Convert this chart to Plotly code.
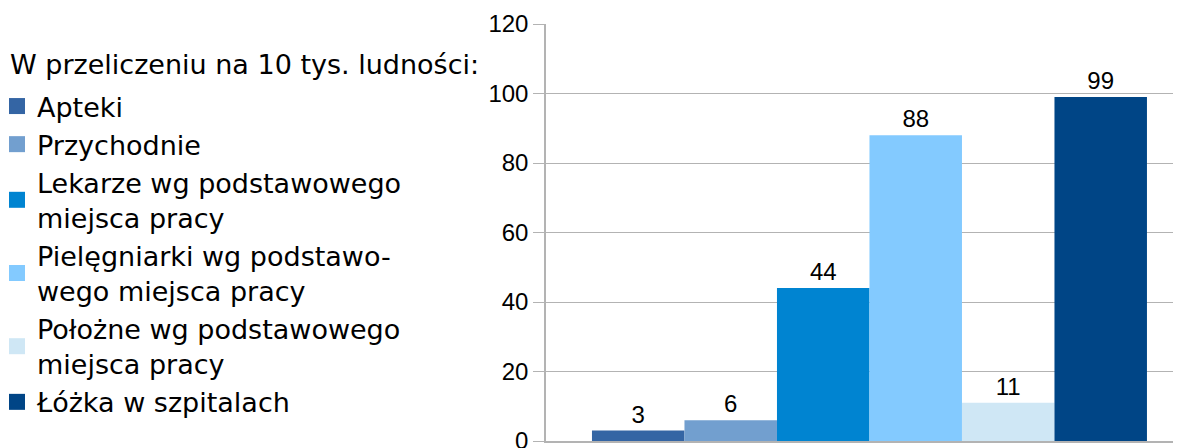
import plotly.graph_objects as go

series_names = [
    "Apteki",
    "Przychodnie",
    "Lekarze wg podstawowego<br>miejsca pracy",
    "Pielęgniarki wg podstawo-<br>wego miejsca pracy",
    "Położne wg podstawowego<br>miejsca pracy",
    "Łóżka w szpitalach",
]
series_values = [3, 6, 44, 88, 11, 99]
series_colors = ["#3465a4", "#729fcf", "#0084d1", "#83caff", "#cfe7f5", "#004586"]
y_ticks = [0, 20, 40, 60, 80, 100, 120]
legend_title = "W przeliczeniu na 10 tys. ludności:"

W, H = 1173, 440
ML, MT, MB, MR = 538, 16, 7, 0
PW, PH = W - ML - MR, H - MT - MB

fig = go.Figure()
for i, (name, val, col) in enumerate(zip(series_names, series_values, series_colors)):
    grp = f"g{i}"
    fig.add_trace(go.Bar(
        x=[0], y=[val], name=name, marker=dict(color=col, line=dict(width=0)),
        text=[str(val)], textposition="outside", cliponaxis=False,
        textfont=dict(family="Liberation Sans, Arial", size=24, color="black"),
        showlegend=False, legendgroup=grp,
    ))
    fig.add_trace(go.Scatter(
        x=[None], y=[None], mode="markers", name=name, legendgroup=grp,
        marker=dict(symbol="square", size=16, color=col),
    ))

fig.update_layout(
    width=W, height=H,
    margin=dict(l=ML, r=MR, t=MT, b=MB, autoexpand=False),
    paper_bgcolor="white", plot_bgcolor="white",
    barmode="group", bargap=0.126, bargroupgap=0,
    showlegend=True,
    title=dict(
        text=legend_title, font=dict(family="DejaVu Sans", size=27, color="black"),
        xref="container", yref="container", x=2 / W, xanchor="left",
        y=1 - 57 / H, yanchor="middle",
    ),
    legend=dict(
        font=dict(family="DejaVu Sans", size=27, color="black"),
        xref="paper", yref="paper",
        x=(-11 - ML) / PW, xanchor="left", y=1 - (74 - MT) / PH, yanchor="top",
        tracegroupgap=3, itemwidth=30, bgcolor="rgba(0,0,0,0)",
        traceorder="normal", maxheight=1000,
    ),
    xaxis=dict(
        range=[-0.5094, 0.4906], showticklabels=False, showgrid=False,
        zeroline=False, showline=True, linecolor="#b3b3b3", linewidth=1.5,
        ticks="",
    ),
    yaxis=dict(
        range=[0, 120], tickvals=y_ticks, ticktext=[str(v) for v in y_ticks],
        showgrid=True, gridcolor="#b3b3b3", gridwidth=1,
        zeroline=False, showline=True, linecolor="#b3b3b3", linewidth=1.5,
        ticks="outside", ticklen=11, tickcolor="#b3b3b3", tickwidth=1,
        tickfont=dict(family="Liberation Sans, Arial", size=24, color="black"),
        ticklabelstandoff=0, ticklabeloverflow="allow",
    ),
)

fig.write_html("out.html")
